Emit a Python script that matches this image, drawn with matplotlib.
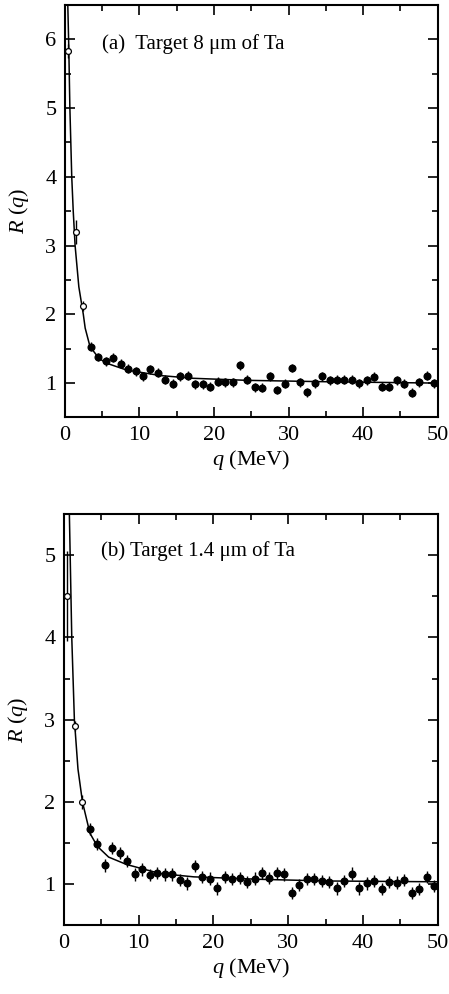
import numpy as np
import matplotlib.pyplot as plt
from matplotlib.ticker import MultipleLocator

plt.rcParams['font.family'] = ['Liberation Serif', 'DejaVu Serif']
plt.rcParams['mathtext.fontset'] = 'custom'
plt.rcParams['mathtext.it'] = 'Liberation Serif:italic'
plt.rcParams['mathtext.rm'] = 'Liberation Serif'

# panel (a): 8 um Ta
qa_open = [0.5, 1.5, 2.5]
ra_open = [5.83, 3.2, 2.12]
ea_open = [0.1, 0.17, 0.07]

qa = np.arange(3.5, 50, 1.0)
ra = [1.53, 1.38, 1.32, 1.37, 1.28, 1.21, 1.17, 1.10, 1.20, 1.15,
      1.05, 0.99, 1.10, 1.11, 0.98, 0.98, 0.95, 1.02, 1.01, 1.01,
      1.26, 1.05, 0.94, 0.93, 1.10, 0.90, 0.99, 1.22, 1.01, 0.87,
      1.00, 1.10, 1.04, 1.05, 1.05, 1.05, 1.00, 1.04, 1.09, 0.95,
      0.95, 1.04, 0.99, 0.86, 1.01, 1.11, 1.00]
ea = [0.065] * len(ra)

fit_qa = [0.42, 0.55, 0.7, 0.95, 1.15, 1.4, 1.9, 2.5, 2.75, 3.4, 4.6,
          5.6, 8.3, 12.8, 17.2, 24.5, 35, 50]
fit_ra = [6.5, 5.9, 5.0, 4.0, 3.5, 3.0, 2.4, 2.0, 1.8, 1.53, 1.36,
          1.29, 1.19, 1.11, 1.07, 1.04, 1.02, 1.0]

# panel (b): 1.4 um Ta
qb_open = [0.5, 1.5, 2.5]
rb_open = [4.5, 2.92, 2.0]
eb_open = [0.55, 0.06, 0.08]

qb = np.arange(3.5, 50, 1.0)
rb = [1.67, 1.49, 1.23, 1.44, 1.38, 1.28, 1.12, 1.18, 1.11, 1.14,
      1.12, 1.12, 1.05, 1.01, 1.22, 1.09, 1.07, 0.95, 1.09, 1.06,
      1.08, 1.03, 1.07, 1.14, 1.08, 1.14, 1.12, 0.89, 0.99, 1.06,
      1.06, 1.04, 1.03, 0.95, 1.04, 1.13, 0.95, 1.01, 1.04, 0.94,
      1.03, 1.02, 1.05, 0.89, 0.94, 1.09, 0.98]
eb = [0.075] * len(rb)

fit_qb = [0.75, 1.07, 1.42, 1.9, 2.5, 3.5, 4.5, 6.0, 8.4, 12.9, 17.4,
          26.3, 35, 50]
fit_rb = [5.5, 4.0, 3.0, 2.4, 2.0, 1.62, 1.46, 1.33, 1.24, 1.13, 1.09,
          1.06, 1.04, 1.03]

fig = plt.figure(figsize=(4.49, 9.94), dpi=100)
ax1 = fig.add_axes([0.144, 0.580, 0.831, 0.415])
ax2 = fig.add_axes([0.142, 0.069, 0.833, 0.414])

panels = [
    (ax1, qa_open, ra_open, ea_open, qa, ra, ea, fit_qa, fit_ra, (0.5, 6.5),
     '(a)  Target 8 μm of Ta', 0.905),
    (ax2, qb_open, rb_open, eb_open, qb, rb, eb, fit_qb, fit_rb, (0.5, 5.5),
     '(b) Target 1.4 μm of Ta', 0.91),
]

for ax, qo, ro, eo, q, r, e, fq, fr, ylim, title, ty in panels:
    ax.plot(fq, fr, color='black', lw=1.1, zorder=2)
    ax.errorbar(q, r, yerr=e, fmt='o', color='black', ms=4.8, elinewidth=1.0,
                capsize=0, zorder=3)
    ax.errorbar(qo, ro, yerr=eo, fmt='o', color='black', mfc='white', mec='black',
                ms=4.2, mew=0.9, elinewidth=1.0, capsize=0, zorder=3)
    ax.set_xlim(0, 50)
    ax.set_ylim(*ylim)
    ax.xaxis.set_major_locator(MultipleLocator(10))
    ax.xaxis.set_minor_locator(MultipleLocator(5))
    ax.yaxis.set_major_locator(MultipleLocator(1))
    ax.yaxis.set_minor_locator(MultipleLocator(0.5))
    ax.tick_params(which='both', direction='in', top=True, right=True,
                   labelsize=16, width=1.2)
    ax.tick_params(which='major', length=7, pad=6)
    ax.tick_params(which='minor', length=4)
    for s in ax.spines.values():
        s.set_linewidth(1.5)
    ax.set_xlabel(r'$q$ (MeV)', fontsize=16, labelpad=2)
    ax.set_ylabel(r'$R$ ($q$)', fontsize=16, labelpad=10)
    ax.text(0.1, ty, title, transform=ax.transAxes, fontsize=15,
            ha='left', va='center')

fig.savefig('out.png', dpi=100)
